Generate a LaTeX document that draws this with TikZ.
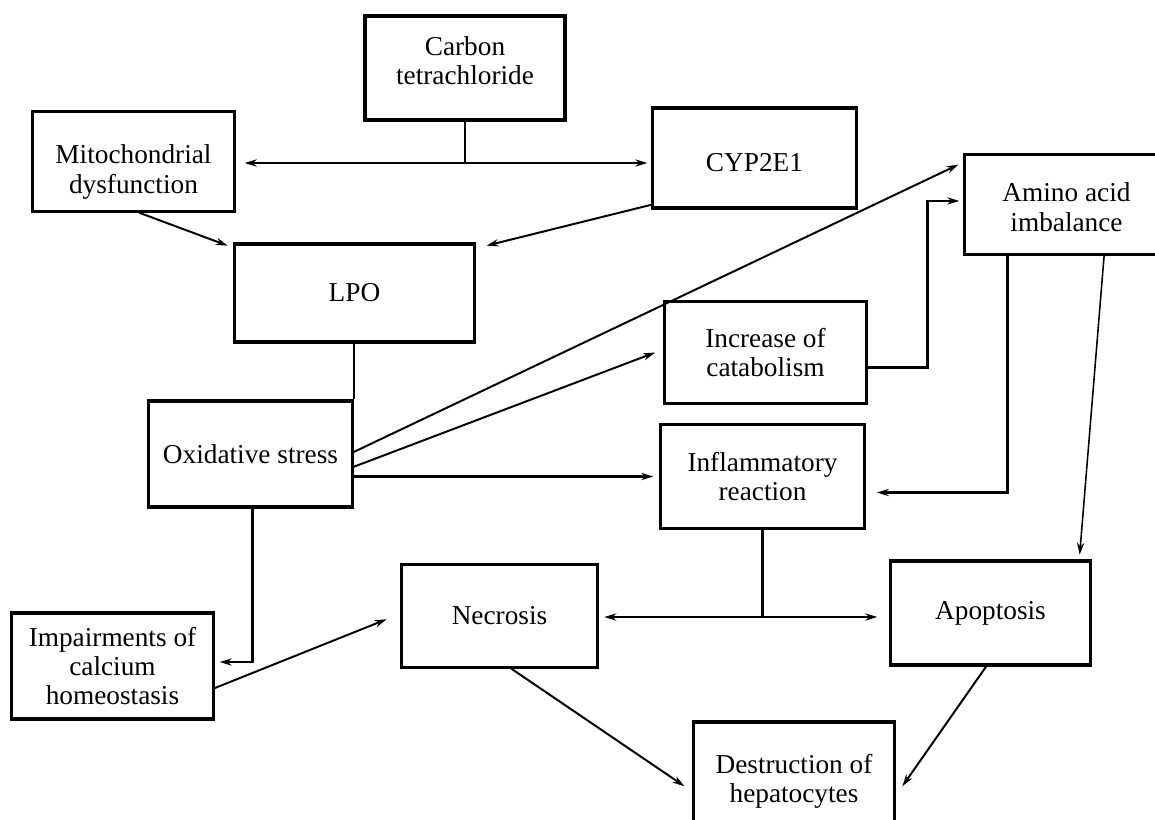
\documentclass[tikz,border=0pt]{standalone}
\usepackage{fontspec}
\setmainfont{Liberation Serif}
\usetikzlibrary{arrows.meta, positioning}

\begin{document}
\begin{tikzpicture}[x=0.0125cm, y=-0.0125cm,
  box/.style={draw, line width=1.1pt, inner sep=0pt, align=center,
              minimum width=25.2mm, minimum height=12.8mm,
              font=\fontsize{9.7}{10.4}\selectfont},
  lnk/.style={line width=1pt},
  arr/.style={line width=0.7pt, -{Stealth[length=1.5mm, width=0.9mm]}},
  arrk/.style={lnk, -{Stealth[length=1.5mm, width=0.9mm]}}]
  \useasboundingbox (0,0) rectangle (1155,819);
  \clip (0,0) rectangle (1155,819);
  % top row
  \node[box, minimum width=25mm, minimum height=13mm] (carbon) at (465,68) {Carbon\\tetrachloride\rule[-1.9mm]{0pt}{1mm}};
  \node[box, minimum height=12.4mm] (mito) at (133.5,161.5) {\rule{0pt}{5mm}Mitochondrial\\dysfunction};
  \node[box, minimum width=25.4mm, minimum height=12.5mm] (cyp) at (754.5,158) {\rule{0pt}{3.4mm}CYP2E1};
  \node[box, minimum width=25.4mm, minimum height=12.4mm] (amino) at (1066.5,204.5) {\rule{0pt}{3mm}Amino acid\\imbalance};
  % middle
  \node[box, minimum width=30.1mm, minimum height=12.25mm] (lpo) at (354.5,293) {LPO};
  \node[box] (catab) at (765.5,352.5) {Increase of\\catabolism};
  \node[box, minimum width=25.4mm, minimum height=13.25mm] (ox) at (250.5,454) {Oxidative stress};
  \node[box, minimum width=25.4mm, minimum height=12.9mm] (infl) at (762.5,476.5) {Inflammatory\\reaction};
  % bottom
  \node[box, minimum width=24.6mm] (necro) at (499.5,616) {Necrosis};
  \node[box, minimum width=24.9mm, minimum height=13mm] (apop) at (990.5,613) {Apoptosis};
  \node[box, minimum height=13.25mm] (calc) at (112.5,666) {Impairments of\\calcium\\homeostasis};
  \node[box, minimum height=13.25mm] (destr) at (794,775) {\rule{0pt}{4mm}Destruction of\\hepatocytes};

  % carbon tetrachloride splits
  \coordinate (cj) at (carbon.south |- 0,163);
  \draw[lnk] (carbon.south) -- (cj);
  \draw[arrk, shorten >=1.1mm] (cj) -- (mito.east |- cj);
  \draw[arrk, shorten >=0.5mm] (cj) -- (cyp.west |- cj);
  \draw[arr] ([xshift=0.7mm]mito.south) -- ([xshift=-0.6mm,yshift=-0.4mm]lpo.north west);
  \draw[arr] ([yshift=0.6mm]cyp.south west) -- ([xshift=1.25mm,yshift=-0.4mm]lpo.north east);
  \draw[line width=0.7pt] (lpo.south -| ox.north east) -- (ox.north east);

  % from oxidative stress
  \draw[arr] ([yshift=0.25mm]ox.east) -- ([xshift=-0.6mm,yshift=-1.4mm]amino.north west);
  \draw[arr] ([yshift=-1.6mm]ox.east) -- ([xshift=-1mm]catab.west);
  \draw[arrk, shorten >=0.75mm] (ox.east |- infl.west) -- (infl.west);
  \draw[arrk] ([xshift=0.2mm]ox.south) |- ([xshift=0.6mm,yshift=0.5mm]calc.east);
  \draw[arr] ([yshift=-2.75mm]calc.east) -- ([xshift=-1.6mm,yshift=-0.4mm]necro.west);

  % amino acids
  \draw[arrk] ([yshift=-1.9mm]catab.east) -- ++(60,0) |- ([xshift=-0.5mm,yshift=0.45mm]amino.west);
  \draw[arrk] ([xshift=5.5mm]amino.south west) |- ([xshift=1.4mm,yshift=-2mm]infl.east);
  \draw[line width=0.55pt, -{Stealth[length=1.5mm, width=0.9mm]}]
    ([xshift=4.7mm]amino.south) -- ([xshift=-1.5mm,yshift=0.6mm]apop.north east);

  % inflammation splits
  \coordinate (ij) at (infl.south |- 0,617);
  \draw[lnk] (infl.south) -- (ij);
  \draw[arrk, shorten >=0.6mm] (ij) -- (necro.east |- ij);
  \draw[arrk, shorten >=1.5mm] (ij) -- (apop.west |- ij);

  % cell death
  \draw[arr] ([xshift=1.5mm]necro.south) -- ([xshift=-0.9mm,yshift=-1.4mm]destr.west);
  \draw[arr] ([xshift=-0.55mm]apop.south) -- ([xshift=0.75mm,yshift=-1.4mm]destr.east);
\end{tikzpicture}
\end{document}
